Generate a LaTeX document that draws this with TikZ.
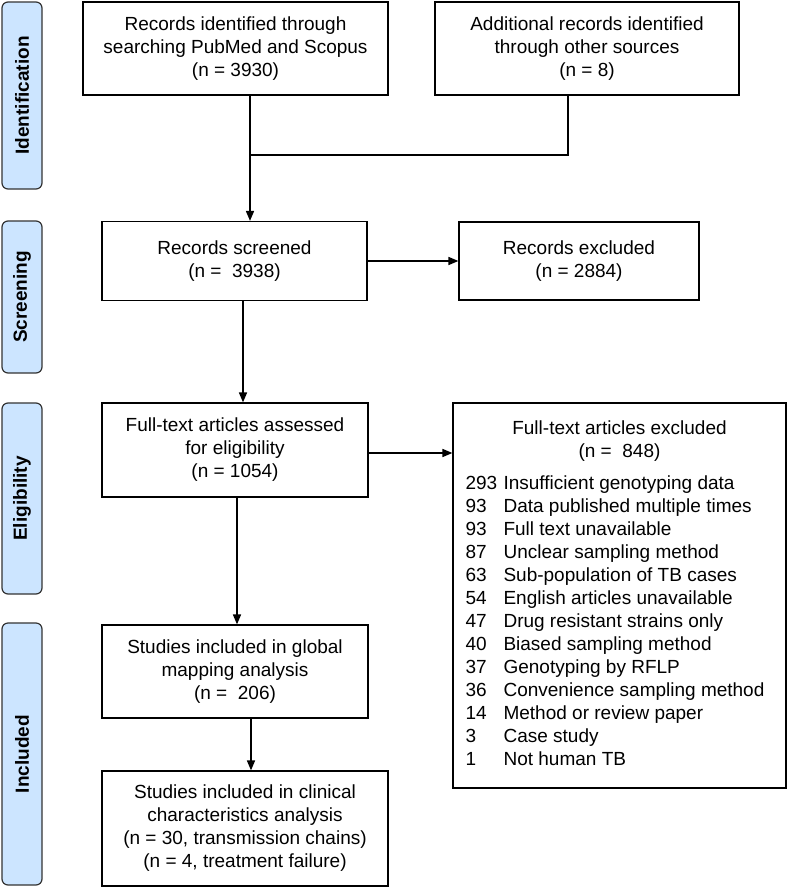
\documentclass[tikz,border=0pt]{standalone}
\usepackage{fontspec}
\setmainfont{Liberation Sans}
\usepackage{tikz}
\usetikzlibrary{arrows.meta}
\definecolor{phaseblue}{RGB}{204,229,255}
\tikzset{
every picture/.style={line width=1.2pt, >={Triangle[length=10pt,width=8pt]},
                      x=1pt, y=-1pt},
%%%%%%%%%%  Node styles
box/.style={draw, align=center, inner sep=2pt,
            font=\fontsize{19}{23}\selectfont},
phase/.style={draw=black!80, fill=phaseblue, rounded corners=6pt, rotate=90,
              minimum height=40pt, inner sep=0pt,
              font=\fontsize{19}{23}\selectfont\bfseries},
%%%% connector style
flow/.style={line width=1.6pt},
}

\begin{document}
\begin{tikzpicture}
\useasboundingbox (0,0) rectangle (788,887);
% phases
\node[phase, minimum width=187pt] (ident) at (22,95.5) {Identification};
\node[phase, minimum width=152pt] (screen) at (22,297) {Screening};
\node[phase, minimum width=191pt] (elig) at (22,498.5) {Eligibility};
\node[phase, minimum width=262pt] (incl) at (22,754) {Included};
% boxes
\node[box, minimum width=305pt, minimum height=93pt] (search) at (235.5,48.5)
{Records identified through\\ searching PubMed and Scopus\\ (n = 3930)};
\node[box, minimum width=304pt, minimum height=93pt] (other) at (587,48.5)
{Additional records identified\\ through other sources\\ (n = 8)};
\node[box, minimum width=265pt, minimum height=79pt] (screened) at (234.5,261)
{Records screened\\ (n = \ 3938)};
\node[box, minimum width=240pt, minimum height=78pt] (excl) at (579,261)
{Records excluded\\ (n = 2884)};
\node[box, minimum width=266pt, minimum height=94pt] (assessed) at (235,450)
{Full-text articles assessed\\ for eligibility\\ (n = 1054)};
\node[box, minimum width=333pt, minimum height=385pt] (ftexcl) at (619.5,595.5)
{\begin{tabular}{@{}l@{}l@{\hspace{9pt}}}
\multicolumn{2}{c}{Full-text articles excluded}\\
\multicolumn{2}{c}{(n = \ 848)}\\[9pt]
\makebox[38pt][l]{293}&Insufficient genotyping data\\
\makebox[38pt][l]{93}&Data published multiple times\\
\makebox[38pt][l]{93}&Full text unavailable\\
\makebox[38pt][l]{87}&Unclear sampling method\\
\makebox[38pt][l]{63}&Sub-population of TB cases\\
\makebox[38pt][l]{54}&English articles unavailable\\
\makebox[38pt][l]{47}&Drug resistant strains only\\
\makebox[38pt][l]{40}&Biased sampling method\\
\makebox[38pt][l]{37}&Genotyping by RFLP\\
\makebox[38pt][l]{36}&Convenience sampling method\\
\makebox[38pt][l]{14}&Method or review paper\\
\makebox[38pt][l]{3}&Case study\\
\makebox[38pt][l]{1}&Not human TB
\end{tabular}};
\node[box, minimum width=266pt, minimum height=93pt] (global) at (235,671.5)
{Studies included in global\\ mapping analysis\\ (n = \ 206)};
\node[box, minimum width=286pt, minimum height=115pt] (clinical) at (245,828.5)
{Studies included in clinical\\ characteristics analysis\\
(n = 30, transmission chains)\\ (n = 4, treatment failure)};
% connectors
\coordinate (join) at (250,155);
\coordinate (join2) at (568,155);
\draw[flow] (search.south -| join) -- (join) -- (join2) -- (other.south -| join2);
\draw[flow,->] (join) -- (join |- screened.north);
\draw[flow,->] (screened.east) -- (screened.east -| excl.west);
\draw[flow,->] ([xshift=8.5pt]screened.south) -- ([xshift=8pt]assessed.north);
\draw[flow,->] ([yshift=-3pt]assessed.east) -- ([yshift=-3pt]assessed.east -| ftexcl.west);
\draw[flow,->] ([xshift=2pt]assessed.south) -- ([xshift=2pt]global.north);
\draw[flow,->] ([xshift=16pt]global.south) -- ([xshift=6pt]clinical.north);
\end{tikzpicture}
\end{document}
